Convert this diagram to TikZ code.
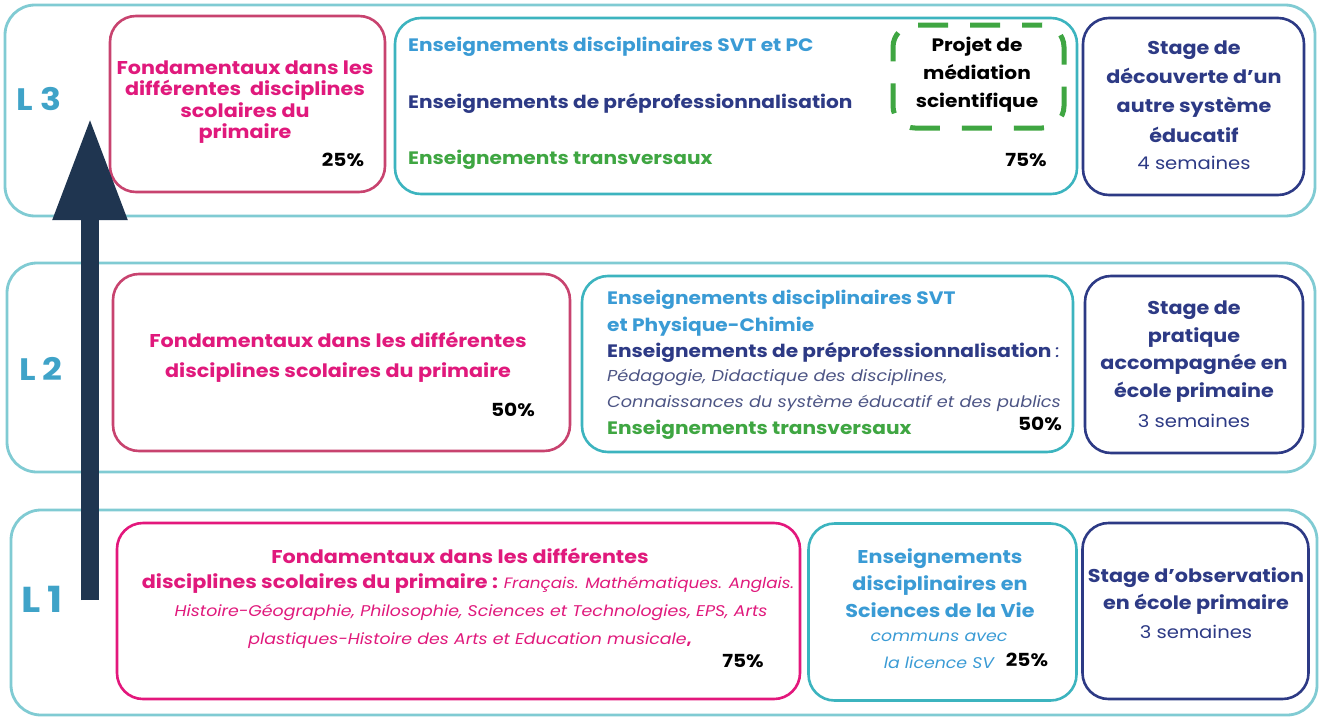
\documentclass[tikz,border=0pt]{standalone}
\usepackage{fontspec}
\setmainfont{Poppins}[FakeStretch=1.12]
\usetikzlibrary{arrows.meta}
\definecolor{rowc}{HTML}{80CBD3}
\definecolor{pinkb}{HTML}{C8436F}
\definecolor{pinkb1}{HTML}{E3177C}
\definecolor{pinkt}{HTML}{E0197C}
\definecolor{tealb}{HTML}{3CB4BF}
\definecolor{lblue}{HTML}{3A9BD5}
\definecolor{navy}{HTML}{2D3A85}
\definecolor{greent}{HTML}{3FA642}
\definecolor{labc}{HTML}{3FA3C8}
\definecolor{grayn}{HTML}{4D5585}
\definecolor{arrowc}{HTML}{1F3550}
\tikzset{
  rowbox/.style={draw=rowc, line width=2.8pt, rounded corners=30pt, inner sep=0pt},
  pinkbox/.style={draw=pinkb, line width=2.6pt, rounded corners=26pt, inner sep=0pt},
  pinkbox1/.style={draw=pinkb1, line width=2.6pt, rounded corners=26pt, inner sep=0pt},
  tealbox/.style={draw=tealb, line width=2.6pt, rounded corners=26pt, inner sep=0pt},
  navybox/.style={draw=navy, line width=2.6pt, rounded corners=26pt, inner sep=0pt},
  dashbox/.style={draw=greent, line width=5pt, dash pattern=on 30pt off 22pt, dash phase=10pt, rounded corners=22pt, inner sep=0pt},
  lab/.style={text=labc, font=\fontsize{31}{31}\selectfont\bfseries, inner sep=0pt},
  ptxt/.style={text=pinkt, font=\fontsize{18.5}{21.5}\selectfont\bfseries, align=center, inner sep=0pt},
  pct/.style={text=black, font=\fontsize{18}{18}\selectfont\bfseries, inner sep=0pt},
  ltxt/.style={font=\fontsize{18}{18}\selectfont\bfseries, anchor=west, inner sep=0pt},
  ntxt/.style={text=navy, font=\fontsize{18.5}{28.5}\selectfont\bfseries, align=center, inner sep=0pt},
  semtxt/.style={text=navy, font=\fontsize{17.5}{17.5}\selectfont, inner sep=0pt},
}
\begin{document}
\begin{tikzpicture}[x=1pt,y=-1pt]
\useasboundingbox (0,0) rectangle (1325,720);
\fill[white] (0,0) rectangle (1325,720);
% rows
\node[rowbox, minimum width=1310, minimum height=211] (r3) at (660,110.5) {};
\node[rowbox, minimum width=1308, minimum height=209] (r2) at (661,367.5) {};
\node[rowbox, minimum width=1306, minimum height=205] (r1) at (664,612.5) {};
% L3
\node[pinkbox, minimum width=275, minimum height=176] (p3) at (247.5,104) {};
\node[tealbox, minimum width=682, minimum height=176] (t3) at (736,106) {};
\node[dashbox, minimum width=171, minimum height=103] (g3) at (978.5,76.5) {};
\node[navybox, minimum width=221, minimum height=177] (n3) at (1193.5,106.5) {};
% L2
\node[pinkbox, minimum width=457, minimum height=177] (p2) at (341.5,362.5) {};
\node[tealbox, minimum width=491, minimum height=176] (t2) at (827.5,364) {};
\node[navybox, minimum width=218, minimum height=177] (n2) at (1194,364.5) {};
% L1
\node[pinkbox1, minimum width=683, minimum height=176] (p1) at (458.5,611) {};
\node[tealbox, minimum width=268, minimum height=177] (t1) at (942.5,612) {};
\node[navybox, minimum width=226, minimum height=176] (n1) at (1195.5,611) {};

% labels
\node[lab] (l3) at (39,99) {L\hspace{7pt}3};
\node[lab] (l2) at (41,369) {L\hspace{7pt}2};
\node[lab, font=\fontsize{36}{36}\selectfont\bfseries] (l1) at (42,599) {L\hspace{7pt}1};

% L3 texts
\node[ptxt] (p3t) at (245,102) {Fondamentaux dans les\\différentes\ \ disciplines\\scolaires du\\primaire};
\node[pct] (p3p) at (343,160) {25\%};
\node[ltxt, text=lblue] (t3a) at (408,47) {Enseignements disciplinaires SVT et PC};
\node[ltxt, text=navy] (t3b) at (408,103) {Enseignements de préprofessionnalisation};
\node[ltxt, text=greent] (t3c) at (408,160) {Enseignements transversaux};
\node[pct] (t3p) at (1026,160) {75\%};
\node[text=black, font=\fontsize{18}{28}\selectfont\bfseries, align=center, inner sep=0pt] (g3t) at (977,75) {Projet de\\médiation\\scientifique};
\node[ntxt, font=\fontsize{18.5}{29.2}\selectfont\bfseries] (n3t) at (1194,91.5) {Stage de\\découverte d’un\\autre système\\éducatif};
\node[semtxt] (n3s) at (1194,163) {4 semaines};

% L2 texts
\node[ptxt, font=\fontsize{18.5}{30}\selectfont\bfseries] (p2t) at (338,357) {Fondamentaux dans les différentes\\disciplines scolaires du primaire};
\node[pct] (p2p) at (513,410) {50\%};
\node[ltxt, text=lblue] (t2a) at (607,300) {Enseignements disciplinaires SVT};
\node[ltxt, text=lblue] (t2b) at (607,327) {et Physique-Chimie};
\node[ltxt, text=navy] (t2c) at (607,352) {Enseignements de préprofessionnalisation \textmd{\textit{:}}};
\node[ltxt, text=grayn, font=\fontsize{15.8}{15.8}\selectfont\itshape] (t2d) at (607,377) {Pédagogie, Didactique des disciplines,};
\node[ltxt, text=grayn, font=\fontsize{15.8}{15.8}\selectfont\itshape] (t2e) at (607,403) {Connaissances du système éducatif et des publics};
\node[ltxt, text=greent] (t2f) at (607,430) {Enseignements transversaux};
\node[pct] (t2p) at (1040,424) {50\%};
\node[ntxt, font=\fontsize{18.5}{27.7}\selectfont\bfseries] (n2t) at (1194,351.5) {Stage de\\pratique\\accompagnée en\\école primaine};
\node[semtxt] (n2s) at (1194,421) {3 semaines};

% L1 texts
\node[text=pinkt, font=\fontsize{18.5}{18.5}\selectfont\bfseries, inner sep=0pt] (p1a) at (460,556) {Fondamentaux dans les différentes};
\node[text=pinkt, inner sep=0pt] (p1b) at (468,584) {\fontsize{18.5}{18.5}\selectfont\bfseries disciplines scolaires du primaire : \fontsize{15}{15}\selectfont\mdseries\itshape Français. Mathématiques. Anglais.};
\node[text=pinkt, font=\fontsize{15.5}{15.5}\selectfont\itshape, inner sep=0pt] (p1c) at (471,613) {Histoire-Géographie, Philosophie, Sciences et Technologies, EPS, Arts};
\node[text=pinkt, inner sep=0pt] (p1d) at (470,641) {\fontsize{15.5}{15.5}\selectfont\itshape plastiques-Histoire des Arts et Education musicale\textup{\bfseries ,}};
\node[pct] (p1p) at (743,661) {75\%};
\node[text=lblue, font=\fontsize{18.5}{27}\selectfont\bfseries, align=center, inner sep=0pt] (t1t) at (940,583) {Enseignements\\disciplinaires en\\Sciences de la Vie};
\node[text=lblue, font=\fontsize{15.5}{27}\selectfont\itshape, align=center, inner sep=0pt] (t1s) at (939,651) {communs avec\\la licence SV};
\node[pct] (t1p) at (1027,660) {25\%};
\node[ntxt, font=\fontsize{18.5}{27}\selectfont\bfseries] (n1t) at (1196,591.5) {Stage d’observation\\en école primaire};
\node[semtxt] (n1s) at (1196,632) {3 semaines};

% arrow
\coordinate (abot) at (90,600);
\coordinate (atop) at (90,118);
\draw[arrowc, line width=18pt, -{Triangle[width=70pt,length=102pt]}] (abot) -- (atop);
\end{tikzpicture}
\end{document}
